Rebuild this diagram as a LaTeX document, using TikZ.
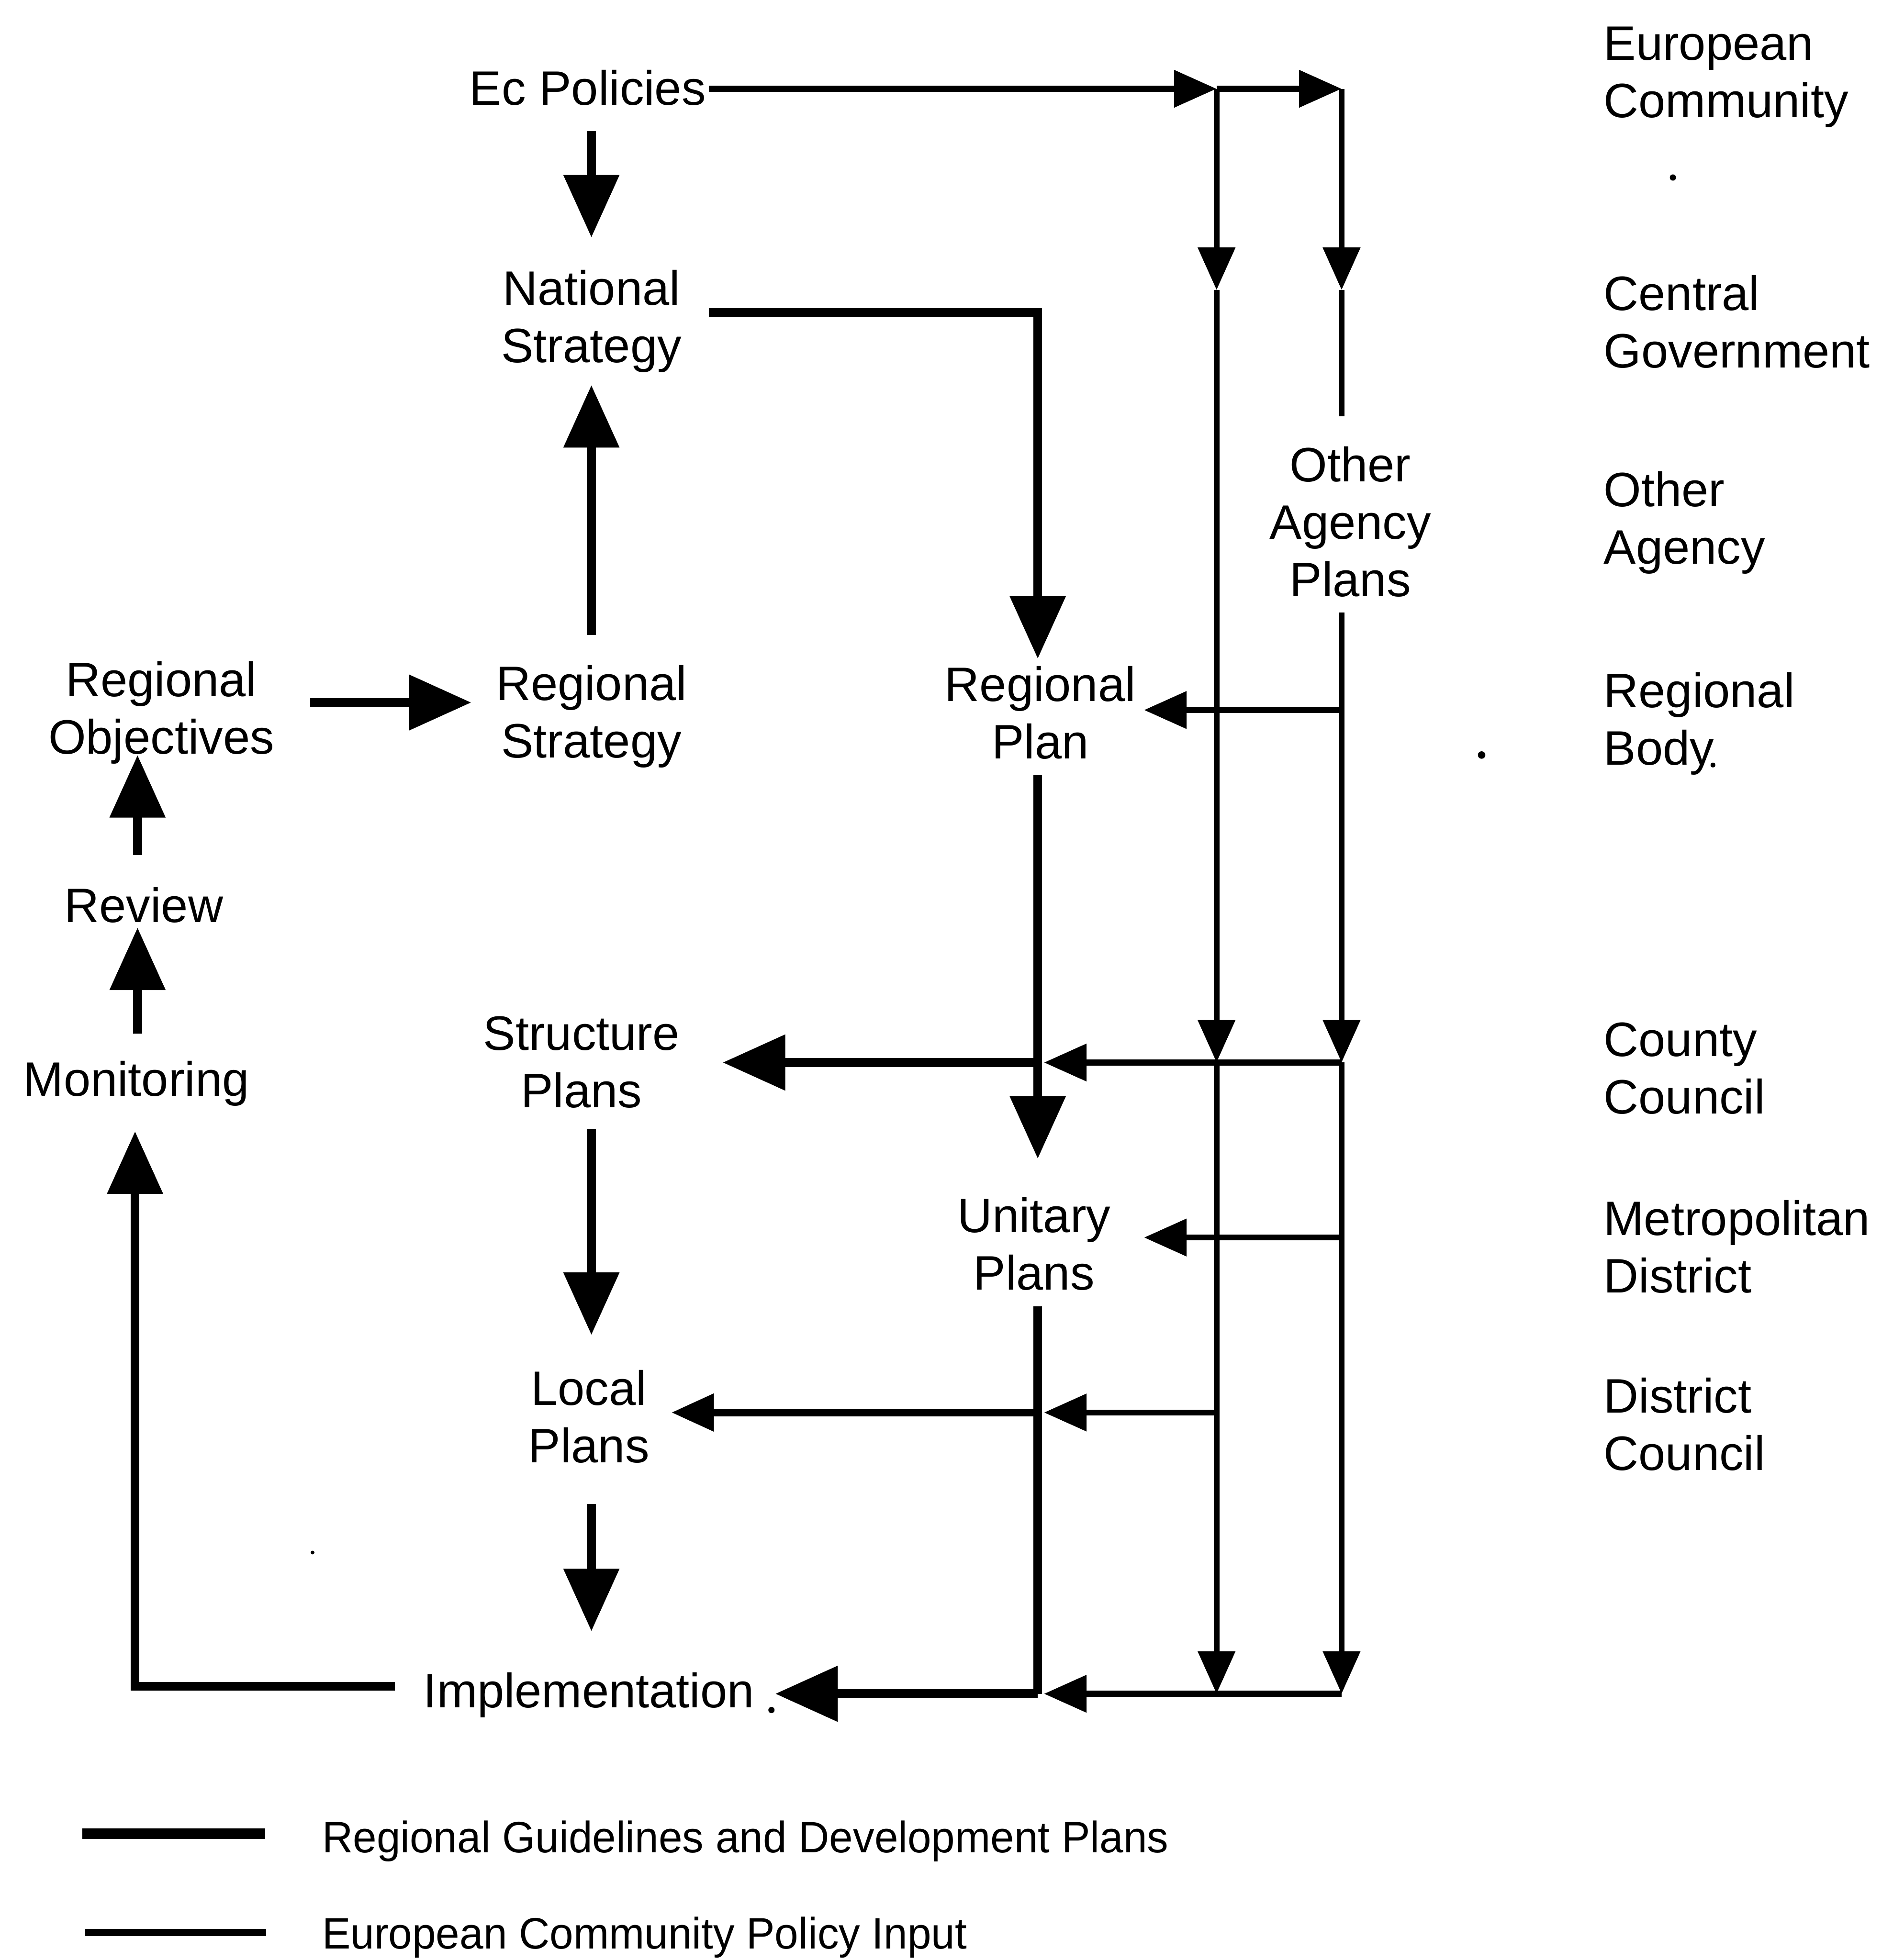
\documentclass[tikz,border=0pt]{standalone}
\usepackage{fontspec}
\setmainfont{Liberation Sans}
\newfontfamily\legendfont[FakeStretch=0.97]{Liberation Sans}
\usetikzlibrary{arrows.meta}

\tikzset{
  stage/.style={font=\fontsize{11}{13.06}\selectfont, inner sep=0pt, align=center, anchor=base},
  tier/.style={font=\fontsize{11}{13.06}\selectfont, inner sep=0pt, align=left, anchor=base west},
  keytext/.style={font=\legendfont\fontsize{10}{12}\selectfont, inner sep=0pt, anchor=base west},
  planflow/.style={line width=2pt},
  planflowlight/.style={line width=1.7pt},
  ecflow/.style={line width=1.35pt},
  bighead/.style={-{Triangle[length=5.0mm,width=4.3mm]}},
  smallhead/.style={-{Triangle[length=3.4mm,width=2.9mm]}},
  speck/.style={fill=black},
}

\begin{document}
\begin{tikzpicture}[x=0.01cm, y=-0.01cm]
\useasboundingbox (0,0) rectangle (1505,1568);

% ---------- stages of the planning hierarchy (placed by last baseline) ----------
\node[stage] (ec)     at (470,84)   {Ec Policies};
\node[stage] (nat)    at (473,290)  {National\\Strategy};
\node[stage] (rstrat) at (473,606)  {Regional\\Strategy};
\node[stage] (robj)   at (129,603)  {Regional\\Objectives};
\node[stage] (review) at (115,738)  {Review};
\node[stage] (monit)  at (109,877)  {Monitoring};
\node[stage] (rplan)  at (832,607)  {Regional\\Plan};
\node[stage] (oap)    at (1080,477) {Other\\Agency\\Plans};
\node[stage] (struct) at (465,886)  {Structure\\Plans};
\node[stage] (unit)   at (827,1032) {Unitary\\Plans};
\node[stage] (local)  at (471,1170) {Local\\Plans};
\node[stage] (impl)   at (471,1366) {Implementation};

% ---------- tiers of government ----------
\node[tier] (tEC)   at (1282,94)   {European\\Community};
\node[tier] (tCG)   at (1282,294)  {Central\\Government};
\node[tier] (tOA)   at (1282,451)  {Other\\Agency};
\node[tier] (tRB)   at (1282,612)  {Regional\\Body};
\node[tier] (tCC)   at (1282,891)  {County\\Council};
\node[tier] (tMD)   at (1282,1034) {Metropolitan\\District};
\node[tier] (tDC)   at (1282,1176) {District\\Council};

% ---------- junctions of the policy-input grid ----------
\coordinate (ecOut) at (567,71);
\coordinate (gA0) at (973,71);
\coordinate (gB0) at (1073,71);
\coordinate (gA1) at (973,232);
\coordinate (gB1) at (1073,232);
\coordinate (gBcut) at (1073,333);
\coordinate (gBres) at (1073,490);
\coordinate (gBrp) at (1073,568);
\coordinate (gA2) at (973,850);
\coordinate (gB2) at (1073,850);
\coordinate (gBup) at (1073,990);
\coordinate (gAlp) at (973,1130);
\coordinate (gA3) at (973,1355);
\coordinate (gB3) at (1073,1355);

% ---------- junctions of the plan spine ----------
\coordinate (spTop) at (830,620);
\coordinate (spStruct) at (830,850);
\coordinate (spUnitIn) at (830,927);
\coordinate (spLow) at (830,1045);
\coordinate (spLocal) at (830,1130);
\coordinate (spImpl) at (830,1355);

% ---------- European Community policy input ----------
\draw[ecflow, smallhead] (ecOut) -- (gA0);
\draw[ecflow, smallhead] (gA0) -- (gB0);
\draw[ecflow, smallhead] (gA0) -- (gA1);
\draw[ecflow, smallhead] (gA1) -- (gA2);
\draw[ecflow, smallhead] (gA2) -- (gA3);
\draw[ecflow, smallhead] (gB0) -- (gB1);
\draw[ecflow] (gB1) -- (gBcut);
\draw[ecflow, smallhead] (gBres) -- (gB2);
\draw[ecflow, smallhead] (gB2) -- (gB3);
\draw[ecflow, smallhead] (gBrp) -- (915,568);
\draw[ecflow, smallhead] (gB2) -- (835,850);
\draw[ecflow, smallhead] (gBup) -- (915,990);
\draw[ecflow, smallhead] (gAlp) -- (835,1130);
\draw[ecflow, smallhead] (gB3) -- (835,1355);

% ---------- regional guidelines and development plans ----------
\draw[planflow, bighead] (473,105) -- (473,190);
\draw[planflow, bighead] (473,508) -- (473,308);
\draw[planflow, bighead] (567,250) -- (830,250) -- (830,527);
\draw[planflow, bighead] (248,562) -- (377,562);
\draw[planflow, bighead] (110,684) -- (110,604);
\draw[planflow, bighead] (110,827) -- (110,742);
\draw[planflow, bighead] (316,1349) -- (108,1349) -- (108,905);
\draw[planflow, bighead] (473,903) -- (473,1068);
\draw[planflow, bighead] (473,1203) -- (473,1305);
\draw[planflow, bighead] (spTop) -- (spUnitIn);
\draw[planflow] (spLow) -- (spImpl);
\draw[planflow, bighead] (spStruct) -- (578,850);
\draw[planflowlight, smallhead] (spLocal) -- (537,1130);
\draw[planflow, bighead] (spImpl) -- (620,1355);

% ---------- stray marks ----------
\fill[speck] (1338,142) circle[radius=0.25mm];
\fill[speck] (1185,604) circle[radius=0.3mm];
\fill[speck] (1370,612) circle[radius=0.2mm];
\fill[speck] (617,1368) circle[radius=0.25mm];
\fill[speck] (250,1242) circle[radius=0.15mm];

% ---------- key ----------
\coordinate (k1a) at (66,1467);
\coordinate (k1b) at (212,1467);
\coordinate (k2a) at (68,1546);
\coordinate (k2b) at (213,1546);
\draw[line width=2.4pt] (k1a) -- (k1b);
\draw[line width=1.65pt] (k2a) -- (k2b);
\node[keytext] (key1) at (257,1482) {Regional Guidelines and Development Plans};
\node[keytext] (key2) at (257,1559) {European Community Policy Input};
\end{tikzpicture}
\end{document}
